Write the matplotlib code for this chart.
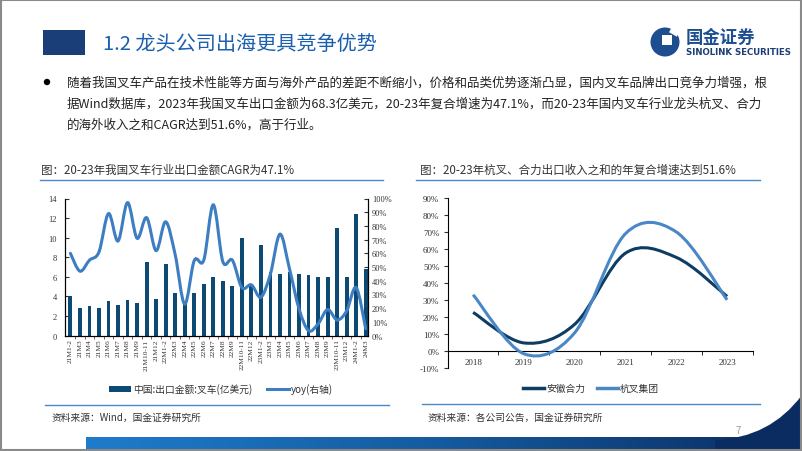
import numpy as np
import matplotlib
matplotlib.use('Agg')
import matplotlib.pyplot as plt
import matplotlib.ticker as mticker
from matplotlib.path import Path
from matplotlib.patches import PathPatch, Rectangle, Circle, Patch
from matplotlib.lines import Line2D
from matplotlib.colors import LinearSegmentedColormap

plt.rcParams['font.family'] = ['Noto Sans CJK SC', 'DejaVu Sans']

# 左图：叉车出口金额（亿美元）与同比
months = ['21M1-2', '21M3', '21M4', '21M5', '21M6', '21M7', '21M8', '21M9',
          '21M10-11', '21M12', '22M1-2', '22M3', '22M4', '22M5', '22M6', '22M7',
          '22M8', '22M9', '22M10-11', '22M12', '23M1-2', '23M3', '23M4', '23M5',
          '23M6', '23M7', '23M8', '23M9', '23M10-11', '23M12', '24M1-2', '24M3']
export_amt = [4.0, 2.8, 3.0, 2.8, 3.5, 3.1, 3.6, 3.3,
              7.5, 3.7, 7.3, 4.4, 3.4, 4.4, 5.3, 6.0,
              5.6, 5.1, 10.0, 5.3, 9.25, 6.5, 6.3, 6.5,
              6.3, 6.2, 5.95, 5.95, 11.0, 5.95, 12.4, 6.8]
export_yoy = [0.60, 0.47, 0.55, 0.61, 0.89, 0.69, 0.97, 0.71,
              0.86, 0.62, 0.83, 0.59, 0.23, 0.547, 0.55, 0.954,
              0.54, 0.55, 0.35, 0.37, 0.28, 0.45, 0.74, 0.487,
              0.195, 0.036, 0.085, 0.19, 0.114, 0.18, 0.35, 0.05]

# 右图：海外收入增速
years = ['2018', '2019', '2020', '2021', '2022', '2023']
heli = [0.226, 0.046, 0.156, 0.575, 0.55, 0.32]
hangcha = [0.33, -0.018, 0.106, 0.69, 0.70, 0.30]

C_DARK = '#0d4a73'
C_LINE = '#3d7dc1'
C_HELI = '#0c3d63'
C_HC = '#4a87c7'
C_RULE = '#4a8ac4'
SERIF = 'Liberation Serif'


def smooth_path(xs, ys):
    # 平滑曲线（类似Excel的平滑线），贝塞尔控制点由相邻点求得
    pts = np.column_stack([xs, ys]).astype(float)
    n = len(pts)
    verts = [pts[0]]
    codes = [Path.MOVETO]
    for i in range(n - 1):
        p0 = pts[max(i - 1, 0)]
        p1 = pts[i]
        p2 = pts[i + 1]
        p3 = pts[min(i + 2, n - 1)]
        verts += [p1 + (p2 - p0) / 6, p2 - (p3 - p1) / 6, p2]
        codes += [Path.CURVE4] * 3
    return Path(verts, codes)


W, H = 802, 452
fig = plt.figure(figsize=(W / 100, H / 100), dpi=100)
fig.patch.set_facecolor('white')

# 页面背景层（像素坐标）
bg = fig.add_axes([0, 0, 1, 1])
bg.axis('off')

# 底部色带
cmap = LinearSegmentedColormap.from_list('band', ['#1f7ccb', '#155a9e', '#0b2c60'])
grad = np.linspace(0, 1, 256).reshape(1, -1)
bg.imshow(grad, extent=[86, W, 450, 438], aspect='auto', cmap=cmap, zorder=1)
sw = Path([(715, 450), (715, 441), (770, 439), (802, 396), (802, 450), (715, 450)],
          [Path.MOVETO, Path.LINETO, Path.CURVE3, Path.CURVE3, Path.LINETO, Path.CLOSEPOLY])
bg.add_patch(PathPatch(sw, facecolor='#0b2c60', edgecolor='none', zorder=2))
bg.add_patch(Rectangle((0.7, 0.7), W - 1.4, H - 1.4, fill=False, edgecolor='#8a8a8a', lw=1.5, zorder=5))

# 标题
bg.add_patch(Rectangle((43, 31), 42, 25, facecolor='#1a3e78', edgecolor='none'))
bg.text(103, 44.5, '1.2 龙头公司出海更具竞争优势', fontsize=14.5, color='#1b5fae', va='center')

# logo
bg.add_patch(Circle((665, 43), 14.5, facecolor='#1d4e8f', edgecolor='none'))
bg.add_patch(Rectangle((662, 36), 10, 10, facecolor='white', edgecolor='none'))
bg.add_patch(Rectangle((672, 28), 9, 6, facecolor='white', edgecolor='none', angle=30))
bg.text(686, 38, '国金证券', fontsize=12.5, fontweight='bold', color='#1d4e8f', va='center')
bg.text(686, 52.5, 'SINOLINK SECURITIES', fontsize=6.2, fontweight='bold', color='#1d3f73',
        va='center', family='DejaVu Sans')

# 正文
bg.add_patch(Circle((47, 83), 3.2, facecolor='black', edgecolor='none'))
body = ['随着我国叉车产品在技术性能等方面与海外产品的差距不断缩小，价格和品类优势逐渐凸显，国内叉车品牌出口竞争力增强，根',
        '据Wind数据库，2023年我国叉车出口金额为68.3亿美元，20-23年复合增速为47.1%，而20-23年国内叉车行业龙头杭叉、合力',
        '的海外收入之和CAGR达到51.6%，高于行业。']
for i, line in enumerate(body):
    bg.text(67, 83 + 21 * i, line, fontsize=9, color='#222222', va='center')

# 图题与分隔线
bg.text(41, 170.5, '图：20-23年我国叉车行业出口金额CAGR为47.1%', fontsize=8.3, color='#333333', va='center')
bg.text(420, 170.5, '图：20-23年杭叉、合力出口收入之和的年复合增速达到51.6%', fontsize=8.3, color='#333333', va='center')
bg.plot([40, 383], [181, 181], color=C_RULE, lw=1)
bg.plot([416, 760], [181, 181], color=C_RULE, lw=1)
bg.plot([45, 389], [406, 406], color=C_RULE, lw=1)
bg.plot([422, 760], [405, 405], color=C_RULE, lw=1)
bg.text(52, 418, '资料来源：Wind，国金证券研究所', fontsize=7, color='#333333', va='center')
bg.text(428, 418, '资料来源：各公司公告，国金证券研究所', fontsize=7, color='#333333', va='center')
bg.text(736, 431, '7', fontsize=7, color='#999999', va='center')

bg.set_xlim(0, W)
bg.set_ylim(H, 0)

# ---- 左图 ----
ax1 = fig.add_axes([65.3 / W, 1 - 336.6 / H, 302.4 / W, 137.1 / H])
ax1.set_facecolor('none')
x = np.arange(len(months))
ax1.bar(x, export_amt, width=0.4, color=C_DARK, zorder=2)
ax1.set_xlim(-0.535, len(months) - 0.79)
ax1.set_ylim(0, 14)
ax1.set_yticks(range(0, 15, 2))
ax1.set_xticks(x)
ax1.set_xticklabels(months, rotation=90, fontsize=5.3, family=SERIF, color='#333333')
ax1.set_xticks(x[:-1] + 0.5, minor=True)
ax1.tick_params(axis='x', which='major', length=0, pad=2)
ax1.tick_params(axis='x', which='minor', length=2, direction='out', color='#8b3a2a')
ax1.tick_params(axis='y', direction='in', length=3, labelsize=6, pad=6, colors='#333333')
for lab in ax1.get_yticklabels():
    lab.set_family(SERIF)
ax1.spines['top'].set_visible(False)

ax2 = ax1.twinx()
ax2.set_ylim(0, 1)
ax2.set_yticks(np.arange(0, 1.01, 0.1))
ax2.yaxis.set_major_formatter(mticker.PercentFormatter(1.0, decimals=0))
ax2.tick_params(axis='y', direction='in', length=3, labelsize=6, pad=3, colors='#333333')
for lab in ax2.get_yticklabels():
    lab.set_family(SERIF)
ax2.spines['top'].set_visible(False)
ax2.add_patch(PathPatch(smooth_path(x, export_yoy), fill=False, edgecolor=C_LINE, lw=2.2,
                        capstyle='round', zorder=3))

h1 = [Patch(facecolor=C_DARK, edgecolor='none'), Line2D([], [], color=C_LINE, lw=2.2)]
fig.legend(h1, ['中国:出口金额:叉车(亿美元)', 'yoy(右轴)'], loc='center',
           bbox_to_anchor=(221 / W, 1 - 390 / H), ncol=2, frameon=False, fontsize=7,
           handlelength=2.3, handleheight=0.6, columnspacing=1.5, handletextpad=0.2,
           labelcolor='#333333')

# ---- 右图 ----
ax3 = fig.add_axes([447.7 / W, 1 - 368.7 / H, 304.8 / W, 169.7 / H])
ax3.set_facecolor('none')
xi = np.arange(len(years))
ax3.add_patch(PathPatch(smooth_path(xi, heli), fill=False, edgecolor=C_HELI, lw=2.2, zorder=3))
ax3.add_patch(PathPatch(smooth_path(xi, hangcha), fill=False, edgecolor=C_HC, lw=2.2, zorder=4))
ax3.set_xlim(-0.5, len(years) - 0.5)
ax3.set_ylim(-0.1, 0.9)
ax3.set_yticks(np.arange(-0.1, 0.91, 0.1))
ax3.yaxis.set_major_formatter(mticker.FuncFormatter(lambda v, p: f'{v * 100:.0f}%'))
ax3.set_xticks(xi)
ax3.set_xticklabels(years)
ax3.set_xticks(np.arange(0.5, len(years), 1.0), minor=True)
ax3.spines['top'].set_visible(False)
ax3.spines['right'].set_visible(False)
ax3.spines['bottom'].set_position(('data', 0))
ax3.tick_params(axis='x', which='major', length=0, pad=5, labelsize=6.5, colors='#333333')
ax3.tick_params(axis='x', which='minor', length=3, direction='out')
ax3.tick_params(axis='y', direction='out', length=3, labelsize=6.5, pad=3, colors='#333333')
for lab in ax3.get_xticklabels() + ax3.get_yticklabels():
    lab.set_family(SERIF)

h3 = [Line2D([], [], color=C_HELI, lw=2.5), Line2D([], [], color=C_HC, lw=2.5)]
fig.legend(h3, ['安徽合力', '杭叉集团'], loc='center', bbox_to_anchor=(591 / W, 1 - 389 / H),
           ncol=2, frameon=False, fontsize=7, handlelength=2.2, columnspacing=1.2,
           handletextpad=0.2, labelcolor='#333333')

fig.savefig('out.png', dpi=100, facecolor='white')
